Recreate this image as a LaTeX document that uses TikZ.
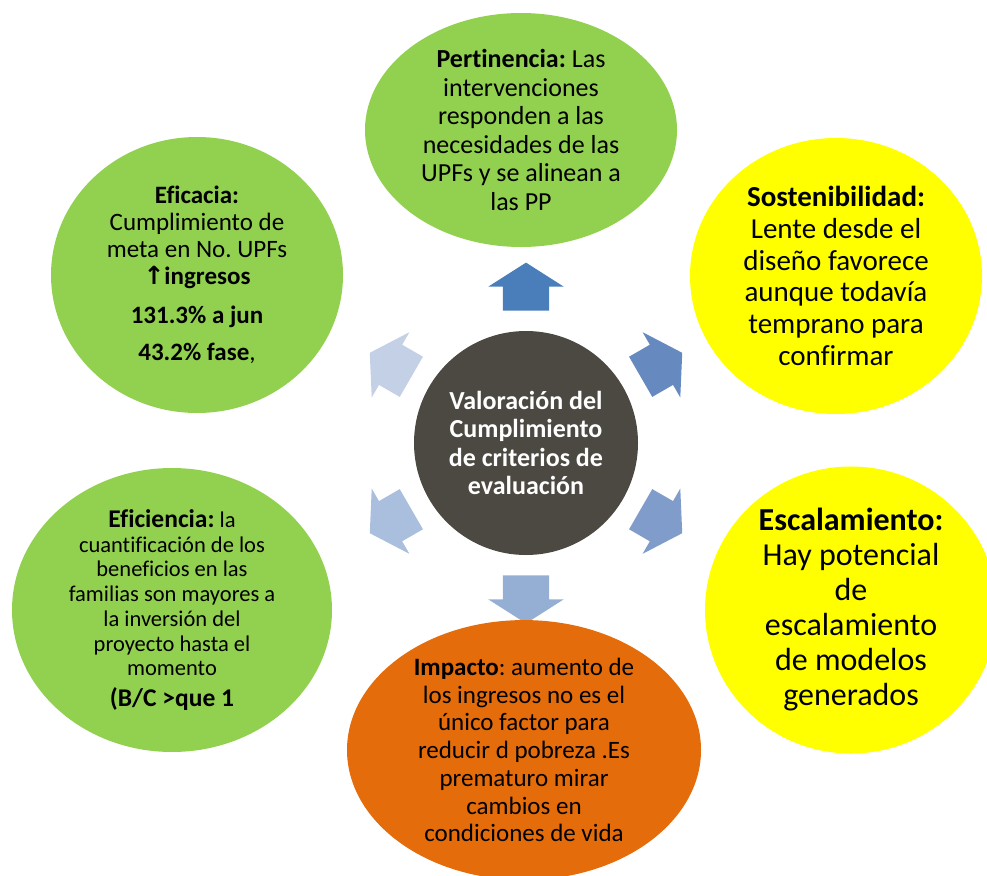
\documentclass[tikz,border=0pt]{standalone}
\usepackage{fontspec}
\setmainfont{Carlito}[Ligatures=NoCommon]
\newfontfamily\symfont{DejaVu Sans}
\usetikzlibrary{positioning,shapes.geometric,shapes.arrows}
\definecolor{critgreen}{HTML}{92D050}
\definecolor{crityellow}{HTML}{FFFF00}
\definecolor{critorange}{HTML}{E46C0A}
\definecolor{hubgrey}{HTML}{4B4941}
\definecolor{arrA}{HTML}{4A7EBB}
\definecolor{arrB}{HTML}{6689BF}
\definecolor{arrC}{HTML}{7F9CCA}
\definecolor{arrD}{HTML}{95AFD4}
\definecolor{arrE}{HTML}{AABFDE}
\definecolor{arrF}{HTML}{C3D0E5}
\frenchspacing
\begin{document}
\begin{tikzpicture}[
    x=1pt, y=-1pt,
    crit/.style={ellipse, inner sep=0pt, align=center, text=black},
    hub/.style={circle, fill=hubgrey, minimum size=224pt, inner sep=0pt, align=center,
                text=white, font=\bfseries\fontsize{26}{28.5}\selectfont},
    blk/.style={single arrow, inner xsep=0pt, inner ysep=23pt, minimum height=48pt,
                single arrow head extend=14.5pt, single arrow tip angle=115},
    big/.style={font=\bfseries\fontsize{25.5}{27}\selectfont},
]
\useasboundingbox (0,0) rectangle (987,875);

% centre
\node[hub] (hub) at (526,443) {Valoración del\\Cumplimiento\\de criterios de\\evaluación};

% block arrows round the centre
\node[blk, fill=arrA, rotate=90]  (upA)  at ([shift={(90:149pt)}]hub.center)  {};
\node[blk, fill=arrB, rotate=30]  (urA)  at ([shift={(30:149pt)}]hub.center)  {};
\node[blk, fill=arrC, rotate=-30] (lrA)  at ([shift={(-30:149pt)}]hub.center) {};
\node[blk, fill=arrD, rotate=-90] (dnA)  at ([shift={(-90:149pt)}]hub.center) {};
\node[blk, fill=arrE, rotate=210] (llA)  at ([shift={(210:149pt)}]hub.center) {};
\node[blk, fill=arrF, rotate=150] (ulA)  at ([shift={(150:149pt)}]hub.center) {};

% criteria
\node[crit, fill=critgreen, minimum width=312pt, minimum height=234pt,
      font=\fontsize{26}{28.5}\selectfont] (pert) at (521,130)
    {\textbf{Pertinencia:} Las\\intervenciones\\responden a las\\necesidades de las\\UPFs y se alinean a\\las PP};
\node[crit, fill=crityellow, minimum width=292pt, minimum height=276pt,
      font=\fontsize{29}{31.7}\selectfont] (sost) at (836,276)
    {\textbf{Sostenibilidad:}\\Lente desde el\\diseño favorece\\aunque todavía\\temprano para\\confirmar};
\node[crit, fill=crityellow, minimum width=292pt, minimum height=276pt,
      font=\fontsize{32}{35}\selectfont] (esc) at (851,610)
    {\textbf{Escalamiento:}\\Hay potencial\\de\\escalamiento\\de modelos\\generados};
\node[crit, fill=critorange, minimum width=354pt, minimum height=250pt,
      font=\fontsize{25}{27.7}\selectfont] (imp) at (524,750)
    {\textbf{Impacto}: aumento de\\los ingresos no es el\\único factor para\\reducir d pobreza .Es\\prematuro mirar\\cambios en\\condiciones de vida};
\node[crit, fill=critgreen, minimum width=320pt, minimum height=276pt,
      font=\fontsize{22.5}{24.7}\selectfont] (efi) at (172,610)
    {{\bfseries\fontsize{25.5}{24.7}\selectfont Eficiencia:} la\\cuantificación de los\\beneficios en las\\familias son mayores a\\la inversión del\\proyecto hasta el\\momento\\[6pt]{\bfseries\fontsize{25.5}{24.7}\selectfont (B/C >que 1}};
\node[crit, fill=critgreen, minimum width=292pt, minimum height=276pt,
      font=\fontsize{25}{27}\selectfont] (efc) at (197,275)
    {\textbf{Eficacia:}\\Cumplimiento de\\meta en No. UPFs\\\textbf{{\symfont ↑}ingresos}\\[12pt]\textbf{131.3\% a jun}\\[10pt]\textbf{43.2\% fase},};
\end{tikzpicture}
\end{document}
